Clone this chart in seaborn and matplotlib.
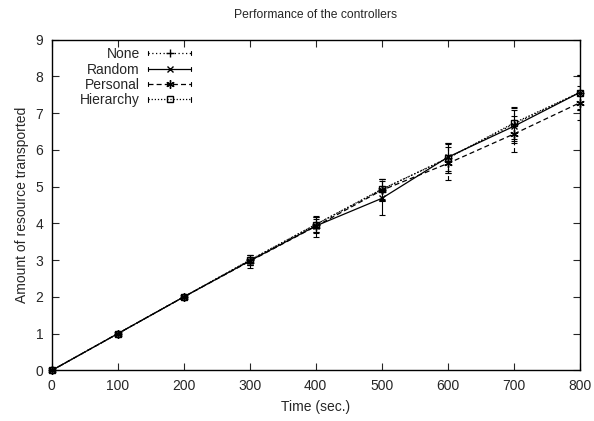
import numpy as np
import pandas as pd
import matplotlib
matplotlib.use("Agg")
import matplotlib.pyplot as plt
from matplotlib.legend_handler import HandlerLine2D
import seaborn as sns

# values
time_sec = [0, 100, 200, 300, 400, 500, 600, 700, 800]
series_names = ["None", "Random", "Personal", "Hierarchy"]
none_mean = [0.0, 1.0, 2.0, 3.0, 3.97, 4.92, 5.78, 6.70, 7.56]
none_err = [0.0, 0.02, 0.03, 0.14, 0.2, 0.28, 0.4, 0.45, 0.48]
random_mean = [0.0, 1.0, 2.0, 2.98, 3.93, 4.68, 5.80, 6.64, 7.56]
random_err = [0.0, 0.02, 0.03, 0.12, 0.18, 0.46, 0.38, 0.45, 0.45]
personal_mean = [0.0, 1.0, 2.0, 2.97, 3.92, 4.90, 5.63, 6.43, 7.28]
personal_err = [0.0, 0.02, 0.03, 0.18, 0.28, 0.3, 0.45, 0.5, 0.46]
hierarchy_mean = [0.0, 1.0, 2.0, 3.0, 3.97, 4.93, 5.77, 6.73, 7.56]
hierarchy_err = [0.0, 0.02, 0.03, 0.13, 0.2, 0.27, 0.4, 0.43, 0.47]

means = [none_mean, random_mean, personal_mean, hierarchy_mean]
errs = [none_err, random_err, personal_err, hierarchy_err]

df = pd.concat([
    pd.DataFrame({"time": time_sec, "amount": m, "err": e, "controller": n})
    for n, m, e in zip(series_names, means, errs)
])

sns.set_style("ticks")
plt.rcParams["font.family"] = ["Liberation Sans", "DejaVu Sans"]

styles = {
    "None": dict(ls=(0, (1, 2)), marker="+", ms=6, mfc="black"),
    "Random": dict(ls="-", marker="x", ms=5, mfc="black"),
    "Personal": dict(ls=(0, (4, 2.5)), marker=(6, 2, 0), ms=6, mfc="black"),
    "Hierarchy": dict(ls=(0, (1, 1.5)), marker="s", ms=4.5, mfc="none"),
}


# gnuplot-like key sample: line with small end bars
class CapHandler(HandlerLine2D):
    def create_artists(self, legend, orig_handle, xdescent, ydescent,
                       width, height, fontsize, trans):
        arts = super().create_artists(legend, orig_handle, xdescent, ydescent,
                                      width, height, fontsize, trans)
        xs = arts[0].get_xdata()
        y = arts[0].get_ydata()[0]
        c = height * 0.22
        for x in (xs[0], xs[-1]):
            cap = plt.Line2D([x, x], [y - c, y + c], color="black", lw=0.8)
            cap.set_transform(trans)
            arts.append(cap)
        return arts


fig = plt.figure(figsize=(5.94, 4.21), dpi=100)
ax = fig.add_axes([0.087, 0.12, 0.889, 0.786])

handles = []
for name in series_names:
    sub = df[df["controller"] == name]
    st = styles[name]
    sns.lineplot(data=sub, x="time", y="amount", ax=ax, color="black",
                 linestyle=st["ls"], lw=0.9, marker=st["marker"], ms=st["ms"],
                 mfc=st["mfc"], mec="black", mew=1.0, legend=False,
                 clip_on=False, zorder=3)
    eb = ax.errorbar(sub["time"], sub["amount"], yerr=sub["err"], fmt="none",
                     ecolor="black", elinewidth=0.8, capsize=2.5, capthick=0.8)
    eb[2][0].set_linestyle(st["ls"])
    h = plt.Line2D([], [], color="black", linestyle=st["ls"], lw=0.9,
                   marker=st["marker"], ms=st["ms"], mfc=st["mfc"],
                   mec="black", mew=1.0)
    handles.append(h)

ax.set_xlim(0, 800)
ax.set_ylim(0, 9)
ax.set_xticks(range(0, 801, 100))
ax.set_yticks(range(0, 10))
ax.tick_params(direction="in", length=5, width=0.8, labelsize=10,
               top=True, right=True, pad=6)
for s in ax.spines.values():
    s.set_linewidth(1.0)
    s.set_color("black")
    s.set_zorder(4)

ax.set_title("Performance of the controllers", fontsize=8.7, pad=15.5)
ax.set_xlabel("Time (sec.)", fontsize=10, labelpad=5)
ax.set_ylabel("Amount of resource transported", fontsize=10, labelpad=5)

ax.legend(handles, series_names, loc="upper right",
          bbox_to_anchor=(0.2775, 0.998), frameon=False, markerfirst=False,
          handlelength=3.1, handletextpad=0.6, labelspacing=0.1,
          borderpad=0, fontsize=10,
          handler_map={plt.Line2D: CapHandler()})

fig.savefig("out.png", dpi=100)
